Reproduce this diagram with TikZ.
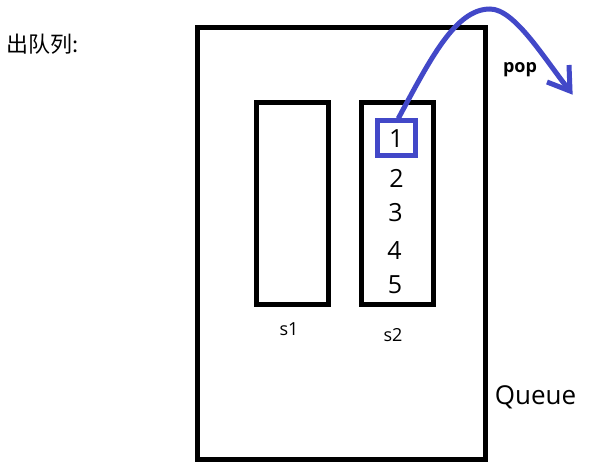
\documentclass[tikz,border=0pt]{standalone}
\usepackage{fontspec}
\setmainfont{Open Sans}
\newfontfamily\cjk{Noto Sans CJK SC}
\definecolor{popblue}{RGB}{66,72,200}
\begin{document}
\begin{tikzpicture}[x=1pt,y=-1pt,
  box/.style={draw=black,line width=5pt,inner sep=0pt,rectangle},
  bluebox/.style={draw=popblue,line width=5pt,inner sep=0pt,rectangle,font=\fontsize{25}{25}\selectfont},
  digit/.style={anchor=base,inner sep=0pt,font=\fontsize{25}{25}\selectfont},
  lbl/.style={anchor=base,inner sep=0pt,font=\fontsize{18}{18}\selectfont},
  popline/.style={draw=popblue,line width=5pt}]
\useasboundingbox[fill=white] (0,0) rectangle (616,476);
% boxes
\node[box,minimum width=288pt,minimum height=431pt] (queue) at (341.5,243.5) {};
\node[box,minimum width=72pt,minimum height=201pt] (s1) at (292.5,203.5) {};
\node[box,minimum width=71.5pt,minimum height=201pt] (s2) at (397.25,203.5) {};
\node[bluebox,minimum width=37.5pt,minimum height=34.5pt] (b1) at (396.25,138.25) {1};
% digits
\node[digit] (d2) at (396.5,187) {2};
\node[digit] (d3) at (395.5,222) {3};
\node[digit] (d4) at (394.5,259) {4};
\node[digit] (d5) at (395,293) {5};
% labels
\node[lbl] (l1) at (289,335) {s1};
\node[lbl] (l2) at (393,341) {s2};
\node[anchor=base,inner sep=0pt,font=\fontsize{26}{26}\selectfont] (qlbl) at (535.5,404) {Queue};
\node[anchor=base,inner sep=0pt,font=\bfseries\fontsize{18}{18}\selectfont] (pop) at (520,73) {pop};
\node[anchor=west,inner sep=0pt,font=\cjk\fontsize{22}{22}\selectfont] (title) at (6,44) {出队列:};
% pop arrow
\coordinate (peak) at (490,9);
\coordinate (tip) at (570,91);
\coordinate (leg1) at (569,65);
\coordinate (leg2) at (547,82);
\draw[popline] ([xshift=2pt]b1.north) .. controls (430,60) and (455,9) .. (peak)
  .. controls (515,9) and (545,60) .. (tip);
\draw[popline,line join=miter] (leg1) -- (tip) -- (leg2);
\end{tikzpicture}
\end{document}
